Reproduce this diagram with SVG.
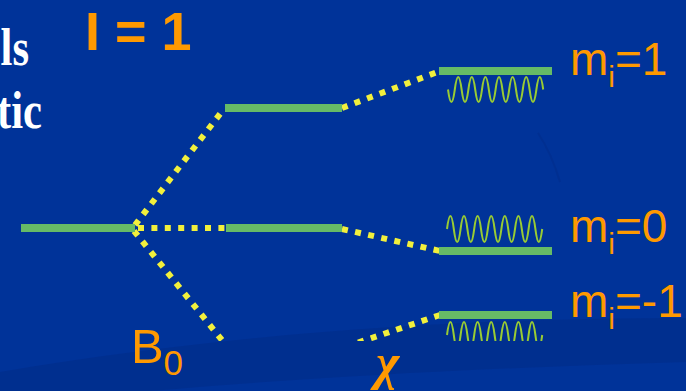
<svg xmlns="http://www.w3.org/2000/svg" width="686" height="391" viewBox="0 0 686 391">
  <defs>
    <style>
      .bar { fill: #66BB66; }
      .dots { fill: none; stroke: #F2F03C; stroke-width: 6; stroke-dasharray: 6 7.4; }
      .wave { fill: none; stroke: #99CC33; stroke-width: 2; }
      .lbl { font-family: "Liberation Sans", Arial, sans-serif; fill: #FF9900; }
      .serif { font-family: "Liberation Serif", "Times New Roman", serif; fill: #FFFFFF; font-weight: bold; }
    </style>
    <clipPath id="clipTop">
      <rect x="0" y="0" width="686" height="341"/>
    </clipPath>
  </defs>

  <!-- background -->
  <rect x="0" y="0" width="686" height="391" fill="#003399"/>
  <path d="M0,372 C250,330 480,318 686,318 L686,362 C480,368 300,378 150,391 L0,391 Z" fill="#00277F" opacity="0.35"/>
  <path d="M538,133 C548,148 555,165 560,182" fill="none" stroke="#002B8A" stroke-width="2" opacity="0.5"/>

  <!-- left text fragments -->
  <g id="text-left">
    <text class="serif" font-size="52" text-anchor="end" transform="translate(29,65) scale(0.82,1)">ls</text>
    <text class="serif" font-size="52" text-anchor="end" transform="translate(42,128) scale(0.82,1)">tic</text>
  </g>

  <g id="title">
    <text class="lbl" font-size="54" font-weight="bold" x="85" y="50">I = 1</text>
  </g>

  <g clip-path="url(#clipTop)">
    <g id="connectors">
      <line class="dots" x1="135" y1="225" x2="223" y2="110"/>
      <line class="dots" x1="138" y1="228" x2="226" y2="228"/>
      <line class="dots" x1="134" y1="231" x2="234" y2="355"/>
      <line class="dots" x1="342" y1="108" x2="440" y2="71"/>
      <line class="dots" x1="342" y1="229" x2="440" y2="251"/>
      <line class="dots" x1="440" y1="315" x2="330" y2="352"/>
    </g>

    <g id="level-initial">
      <rect class="bar" x="21" y="224" width="114" height="8"/>
    </g>
    <g id="level-zeeman-plus">
      <rect class="bar" x="225" y="104" width="117" height="8"/>
    </g>
    <g id="level-zeeman-zero">
      <rect class="bar" x="226" y="224" width="116" height="8"/>
    </g>
    <g id="level-m1">
      <rect class="bar" x="439" y="67" width="113" height="8"/>
      <path class="wave" d="M448,89.5 Q451.4,114.5 454.8,89.5 T461.6,89.5 T468.4,89.5 T475.2,89.5 T482,89.5 T488.8,89.5 T495.6,89.5 T502.4,89.5 T509.2,89.5 T516,89.5 T522.8,89.5 T529.6,89.5 T536.4,89.5 T543.2,89.5"/>
    </g>
    <g id="level-m0">
      <rect class="bar" x="439" y="247" width="113" height="8"/>
      <path class="wave" d="M447,229 Q450.4,203 453.8,229 T460.6,229 T467.4,229 T474.2,229 T481,229 T487.8,229 T494.6,229 T501.4,229 T508.2,229 T515,229 T521.8,229 T528.6,229 T535.4,229 T542.2,229"/>
    </g>
    <g id="level-mminus1">
      <rect class="bar" x="439" y="311" width="113" height="8"/>
      <path class="wave" d="M447,335 Q450.4,309 453.8,335 T460.6,335 T467.4,335 T474.2,335 T481,335 T487.8,335 T494.6,335 T501.4,335 T508.2,335 T515,335 T521.8,335 T528.6,335 T535.4,335 T542.2,335"/>
    </g>
  </g>

  <g id="labels">
    <text class="lbl" font-size="46" x="570" y="75">m<tspan font-size="30" dy="12">i</tspan><tspan dy="-12">=1</tspan></text>
    <text class="lbl" font-size="46" x="570" y="242">m<tspan font-size="30" dy="12">i</tspan><tspan dy="-12">=0</tspan></text>
    <text class="lbl" font-size="46" x="570" y="317">m<tspan font-size="30" dy="12">i</tspan><tspan dy="-12">=-1</tspan></text>
    <text class="lbl" font-size="49" x="131" y="363">B<tspan font-size="35" x="163.5" y="375">0</tspan></text>
    <text font-family="'Liberation Serif', 'Times New Roman', serif" font-style="italic" font-weight="bold" font-size="50" fill="#FF9900" x="376" y="379">χ</text>
  </g>
</svg>
